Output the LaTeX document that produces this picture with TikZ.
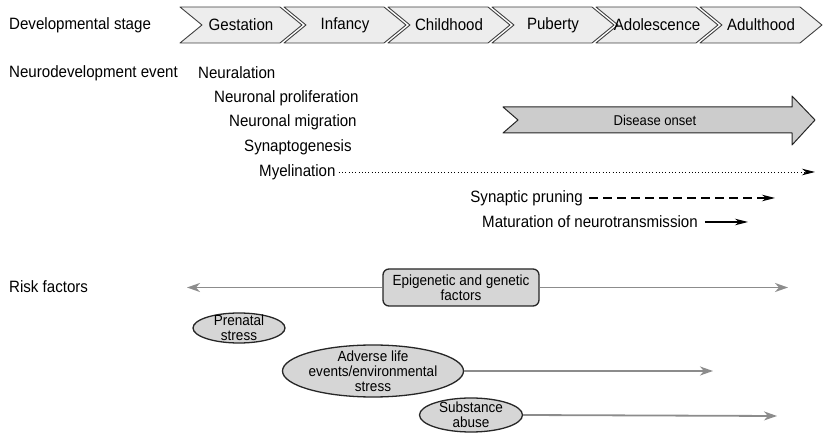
\documentclass[tikz,border=0pt]{standalone}
\usepackage{fontspec}
\setmainfont{Liberation Sans}[FakeStretch=0.92]
\usetikzlibrary{shapes.geometric,arrows.meta}
\definecolor{stagefill}{gray}{0.93}
\definecolor{onsetfill}{gray}{0.80}
\definecolor{riskfill}{gray}{0.84}
\definecolor{riskline}{gray}{0.55}
\tikzset{
  rowtitle/.style={anchor=west, inner sep=0pt},
  stagebox/.style={draw=black!75, fill=stagefill, line width=0.9pt},
  riskbox/.style={draw=black!85, fill=riskfill, line width=1.3pt},
  riskarrow/.style={draw=riskline, line width=1.8pt, -{Stealth[length=13pt,width=9pt,inset=4pt]}},
  riskfont/.style={font=\fontsize{14.7}{15}\selectfont, align=center, inner sep=0pt}
}
\begin{document}
\begin{tikzpicture}[x=1pt, y=-1pt, >={Stealth[length=13pt,width=6.5pt,inset=4pt]}, line join=round, font=\fontsize{16.4}{18}\selectfont]
	\useasboundingbox (0,0) rectangle (823,438);
	% row titles
	\node[rowtitle] (tstage) at (9,25) {Developmental stage};
	\node[rowtitle] (tevent) at (9,73) {Neurodevelopment event};
	\node[rowtitle] (trisk) at (9,287) {Risk factors};
	% developmental stages
	\foreach \t [count=\i from 0] in {Gestation,Infancy,Childhood,Puberty,Adolescence,Adulthood}{
		\pgfmathsetmacro\xs{180+104*\i}
		\draw[stagebox] (\xs,7) -- ++(100,0) -- ++(22,18) -- ++(-22,18) -- ++(-100,0) -- ++(22,-18) -- cycle;
		\node (stage\i) at (\xs+61,25) {\t};
	}
	% neurodevelopment events
	\node[rowtitle] (neuralation) at (198,73) {Neuralation};
	\node[rowtitle] (prolif) at (214,98) {Neuronal proliferation};
	\node[rowtitle] (migration) at (229,122) {Neuronal migration};
	\node[rowtitle] (synapto) at (244,147) {Synaptogenesis};
	\node[rowtitle] (myelin) at (259,172) {Myelination};
	\coordinate (myelinend) at (815,172);
	\draw[->, line width=0.9pt, dash pattern=on 0.9pt off 2.4pt, shorten <=3pt] (myelin.east) -- (myelinend);
	\node[rowtitle, anchor=east] (pruning) at (583,198) {Synaptic pruning};
	\coordinate (pruningend) at (775,198);
	\draw[->, line width=1.2pt, dash pattern=on 9pt off 5pt, shorten <=6pt] (pruning.east) -- (pruningend);
	\node[rowtitle] (matur) at (482,222) {Maturation of neurotransmission};
	\coordinate (maturend) at (748,222);
	\draw[->, line width=1.2pt, shorten <=7pt] (matur.east) -- (maturend);
	% disease onset
	\draw[fill=onsetfill, draw=black!85, line width=1pt] (503,107) -- (792,107) -- (792,96) -- (815,120) -- (792,145) -- (792,133) -- (503,133) -- (518,120) -- cycle;
	\node[font=\fontsize{14.2}{15}\selectfont] (onset) at (655,120) {Disease onset};
	% risk factors
	\node[riskbox, riskfont, rounded corners=6pt, minimum width=156pt, minimum height=37pt] (epigen) at (461,287.5) {Epigenetic and genetic\\factors};
	\coordinate (epigenleft) at (187,287.5);
	\coordinate (epigenright) at (788,287.5);
	\draw[riskarrow] (epigen.west) -- (epigenleft);
	\draw[riskarrow] (epigen.east) -- (epigenright);
	\node[riskbox, ellipse, minimum width=92pt, minimum height=30pt, inner sep=0pt] (prenatal) at (239,328) {};
	\node[riskfont] at (prenatal) {Prenatal\\stress};
	\node[riskbox, ellipse, minimum width=181pt, minimum height=52pt, inner sep=0pt] (adverse) at (373,371) {};
	\node[riskfont] at (adverse) {Adverse life\\events/environmental\\stress};
	\coordinate (adverseend) at (713,371);
	\draw[riskarrow] (adverse.east) -- (adverseend);
	\node[riskbox, ellipse, minimum width=103pt, minimum height=34pt, inner sep=0pt] (substance) at (471,415) {};
	\node[riskfont] at (substance) {Substance\\abuse};
	\coordinate (substanceend) at (777,416);
	\draw[riskarrow] (substance.east) -- (substanceend);
\end{tikzpicture}
\end{document}
